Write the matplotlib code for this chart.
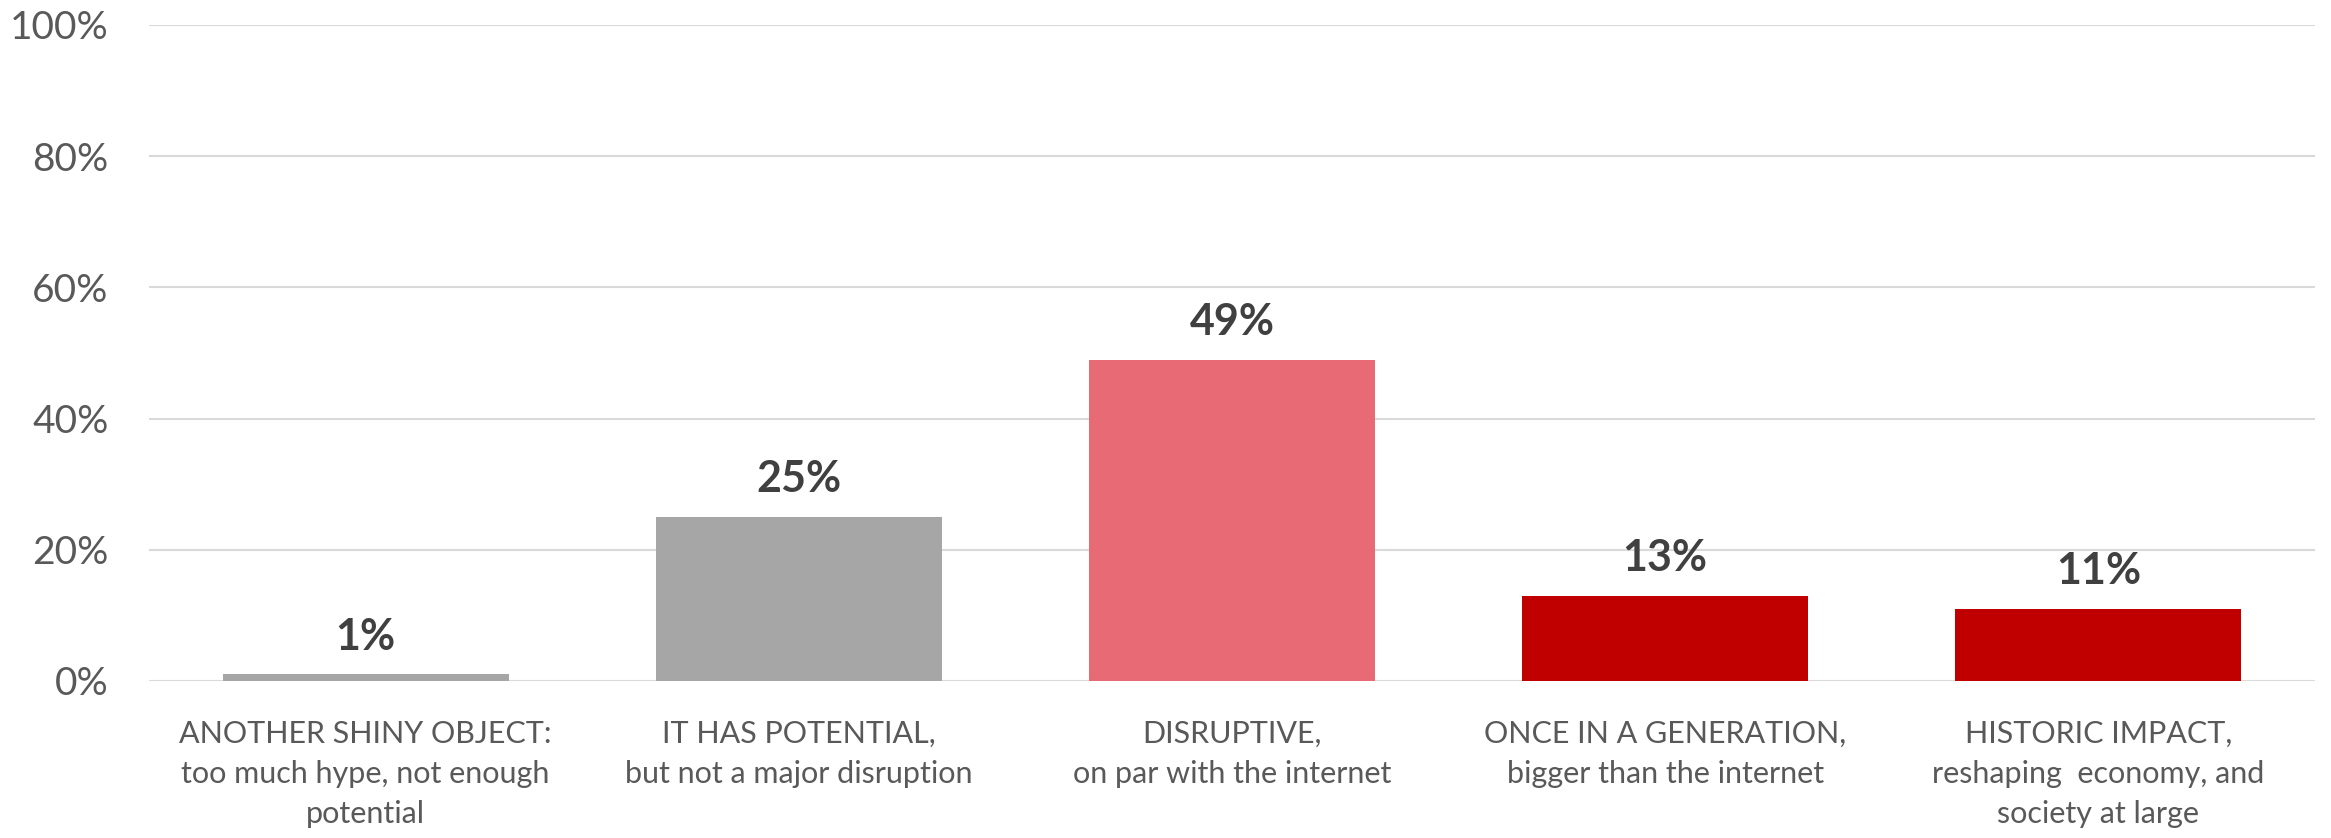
import matplotlib
matplotlib.use("Agg")
import matplotlib.pyplot as plt

categories = [
    "ANOTHER SHINY OBJECT:\ntoo much hype, not enough\npotential",
    "IT HAS POTENTIAL,\nbut not a major disruption",
    "DISRUPTIVE,\non par with the internet",
    "ONCE IN A GENERATION,\nbigger than the internet",
    "HISTORIC IMPACT,\nreshaping  economy, and\nsociety at large",
]
values = [1, 25, 49, 13, 11]
bar_colors = ["#A6A6A6", "#A6A6A6", "#E86A74", "#C00000", "#C00000"]
yticks = [0, 20, 40, 60, 80, 100]

plt.rcParams["font.family"] = ["Lato", "DejaVu Sans"]

fig = plt.figure(figsize=(23.31, 8.38), dpi=100)
ax = fig.add_axes([0.0639, 0.1874, 0.9292, 0.7828])

x = range(len(categories))
ax.bar(x, values, width=0.66, color=bar_colors, zorder=3)

# percentage labels above each bar
for xi, v in zip(x, values):
    ax.annotate(f"{v}%", (xi, v), xytext=(0, 27), textcoords="offset points",
                ha="center", va="center", fontsize=31, fontweight="bold",
                color="#404040")

ax.set_xlim(-0.5, len(categories) - 0.5)
ax.set_ylim(0, 100)
ax.set_yticks(yticks)
ax.set_yticklabels([f"{t}%" for t in yticks])
ax.set_xticks(list(x))
ax.set_xticklabels(categories, linespacing=1.53)

ax.tick_params(axis="y", length=0, pad=29, labelsize=28, labelcolor="#595959")
ax.tick_params(axis="x", length=0, pad=28, labelsize=22, labelcolor="#595959")
ax.grid(axis="y", color="#D9D9D9", linewidth=1.5, zorder=0)
for s in ax.spines.values():
    s.set_visible(False)

fig.savefig("out.png", dpi=100)
